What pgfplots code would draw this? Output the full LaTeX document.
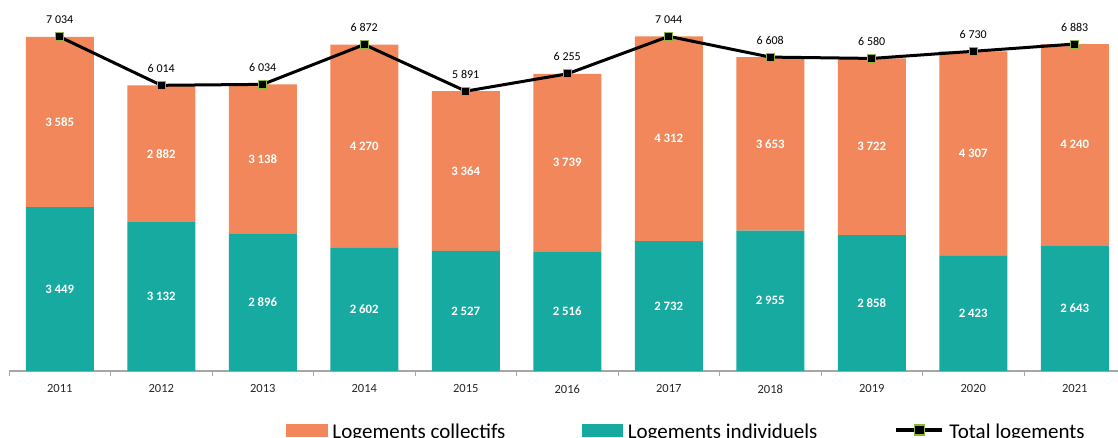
\documentclass[border=0pt]{standalone}
\usepackage{pgfplots}
\pgfplotsset{compat=1.18}
\usepackage{pgfplotstable}
\usepackage{fontspec}
\setmainfont{Carlito}
\definecolor{orangeC}{HTML}{F1875A}
\definecolor{tealI}{HTML}{17AAA0}
\definecolor{markG}{HTML}{8DB63C}
\definecolor{axisgray}{HTML}{A6A6A6}
\pgfplotstableread{
x ind col tot
0 3449 3585 7034
1 3132 2882 6014
2 2896 3138 6034
3 2602 4270 6872
4 2527 3364 5891
5 2516 3739 6255
6 2732 4312 7044
7 2955 3653 6608
8 2858 3722 6580
9 2423 4307 6730
10 2643 4240 6883
}\data
\pgfplotsset{
  orangeleg/.style={legend image code/.code={\fill[orangeC] (0pt,-4pt) rectangle (41pt,8pt);}},
  tealleg/.style={legend image code/.code={\fill[tealI] (0pt,-4pt) rectangle (40pt,8pt);}},
  totleg/.style={legend image code/.code={\draw[black,line width=4pt] (0pt,2pt) -- (46pt,2pt);
     \filldraw[fill=black,draw=markG,line width=1.2pt] (18pt,-3pt) rectangle (28pt,7pt);}},
  commonax/.style={at={(9pt,66pt)}, anchor=south west, scale only axis,
    width=1116.5pt, height=371pt, xmin=-0.5, xmax=10.5, ymin=0, ymax=7810,
    /pgf/number format/assume math mode=true,
    /pgf/number format/1000 sep={\ }},
}
\begin{document}
\begin{tikzpicture}
\path[use as bounding box] (0,0) rectangle (1118pt,437pt);
\begin{axis}[commonax,
  ybar stacked, bar width=68pt,
  axis y line=none, axis x line*=bottom,
  x axis line style={draw=axisgray, line width=1.2pt},
  xtick={0,1,2,3,4,5,6,7,8,9,10},
  xticklabels={2011,2012,2013,2014,2015,2016,2017,2018,2019,2020,2021},
  major x tick style={draw=none},
  minor xtick={-0.5,0.5,1.5,2.5,3.5,4.5,5.5,6.5,7.5,8.5,9.5,10.5},
  minor x tick style={draw=axisgray, line width=1pt},
  tick align=outside, minor tick length=5pt,
  xticklabel style={font=\fontsize{12.5}{14}\selectfont, text=black!85, yshift=-6pt},
  legend columns=3,
  legend style={at={(axis description cs:0.248,-0.1645)}, anchor=west, draw=none, fill=none, inner sep=0pt,
    font=\fontsize{21}{24}\selectfont, column sep=3pt,
    /tikz/every even column/.append style={column sep=75pt}},
  legend cell align=left,
]
\addplot[fill=tealI, draw=none, forget plot] table[x=x,y=ind]{\data};
\addplot[fill=orangeC, draw=none, forget plot] table[x=x,y=col]{\data};
\addlegendimage{orangeleg}
\addlegendentry{Logements collectifs}
\addlegendimage{tealleg}
\addlegendentry{Logements individuels}
\addlegendimage{totleg}
\addlegendentry{Total logements}
\end{axis}
\begin{axis}[commonax, hide axis, clip=false]
% value labels centred in each segment
\addplot[draw=none, mark=none, point meta=explicit, nodes near coords,
  nodes near coords style={font=\bfseries\fontsize{12.8}{14}\selectfont, text=white, anchor=center, inner sep=0pt}]
  table[x=x, y expr=\thisrow{ind}/2, meta=ind]{\data};
\addplot[draw=none, mark=none, point meta=explicit, nodes near coords,
  nodes near coords style={font=\bfseries\fontsize{12.8}{14}\selectfont, text=white, anchor=center, inner sep=0pt}]
  table[x=x, y expr=\thisrow{ind}+\thisrow{col}/2, meta=col]{\data};
% total line
\addplot[black, line width=3pt, mark=square*, mark size=4pt, mark options={fill=black, draw=markG, line width=1pt},
  nodes near coords,
  nodes near coords style={font=\fontsize{12}{14}\selectfont, text=black, anchor=south, yshift=9pt}]
  table[x=x,y=tot]{\data};
\end{axis}
\end{tikzpicture}
\end{document}
